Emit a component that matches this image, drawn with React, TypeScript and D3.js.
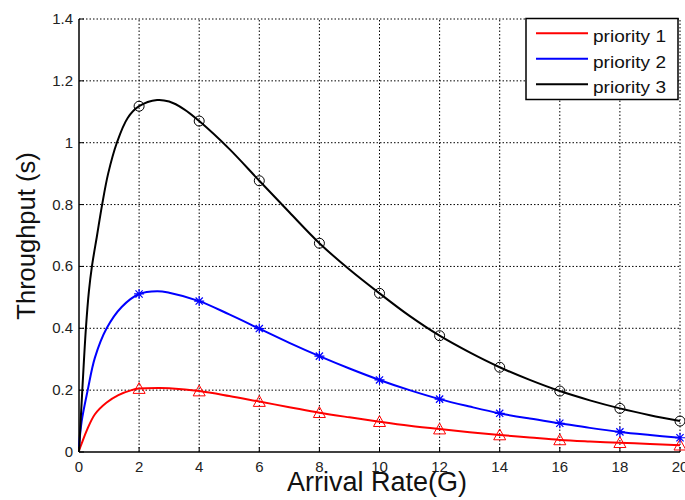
import React from 'react'
import * as d3 from 'd3'

// values
const xTicks = [0, 2, 4, 6, 8, 10, 12, 14, 16, 18, 20]
const yTicks = [0, 0.2, 0.4, 0.6, 0.8, 1, 1.2, 1.4]
const markerX = [2, 4, 6, 8, 10, 12, 14, 16, 18, 20]

const p1x = [0, 0.09, 0.26, 0.53, 0.92, 1.31, 1.75, 2, 2.7, 3, 4, 5, 6, 7, 8, 9, 10, 11, 12, 13, 14, 15, 16, 17, 18, 19, 20]
const p1y = [0.005, 0.028, 0.07, 0.122, 0.16, 0.184, 0.2, 0.205, 0.207, 0.206, 0.197, 0.181, 0.163, 0.145, 0.127, 0.112, 0.098, 0.085, 0.074, 0.064, 0.055, 0.047, 0.039, 0.034, 0.03, 0.026, 0.022]

const p2x = [0, 0.09, 0.29, 0.53, 0.92, 1.42, 2, 2.6, 3, 4, 5, 6, 7, 8, 9, 10, 11, 12, 13, 14, 15, 16, 17, 18, 19, 20]
const p2y = [0.017, 0.1, 0.2, 0.305, 0.4, 0.469, 0.511, 0.52, 0.515, 0.488, 0.445, 0.399, 0.353, 0.31, 0.27, 0.233, 0.2, 0.171, 0.147, 0.125, 0.108, 0.093, 0.078, 0.065, 0.055, 0.046]

const p3x = [0, 0.11, 0.23, 0.33, 0.43, 0.6, 0.77, 0.97, 1.26, 1.62, 2, 2.6, 3, 3.5, 4, 5, 6, 7, 8, 9, 10, 11, 12, 13, 14, 15, 16, 17, 18, 19, 20]
const p3y = [0, 0.2, 0.4, 0.52, 0.6, 0.7, 0.8, 0.9, 1.0, 1.08, 1.118, 1.138, 1.133, 1.108, 1.07, 0.98, 0.877, 0.775, 0.675, 0.59, 0.513, 0.44, 0.376, 0.322, 0.274, 0.233, 0.197, 0.167, 0.141, 0.119, 0.1]

const series = [
  { name: 'priority 1', color: '#ff0000', xs: p1x, ys: p1y, marker: 'triangle' },
  { name: 'priority 2', color: '#0000ff', xs: p2x, ys: p2y, marker: 'star' },
  { name: 'priority 3', color: '#000000', xs: p3x, ys: p3y, marker: 'circle' },
]

const W = 685
const H = 500
const margin = { left: 79, right: 5, top: 19, bottom: 48 }
const font = 'Liberation Sans, Arial, sans-serif'

function Marker({ type, x, y, color }: { type: string; x: number; y: number; color: string }) {
  if (type === 'circle') return <circle cx={x} cy={y} r={5} fill="none" stroke={color} strokeWidth={1} />
  if (type === 'triangle') {
    const s = 6
    return (
      <path d={`M${x},${y - s}L${x + s},${y + s * 0.8}L${x - s},${y + s * 0.8}Z`} fill="none" stroke={color} strokeWidth={1} />
    )
  }
  const s = 5
  const d = s * 0.72
  return (
    <path
      d={`M${x - s},${y}L${x + s},${y}M${x},${y - s}L${x},${y + s}M${x - d},${y - d}L${x + d},${y + d}M${x - d},${y + d}L${x + d},${y - d}`}
      stroke={color}
      strokeWidth={1.2}
    />
  )
}

export default function App() {
  const x = d3.scaleLinear().domain([0, 20]).range([margin.left, W - margin.right])
  const y = d3.scaleLinear().domain([0, 1.4]).range([H - margin.bottom, margin.top])
  const x0 = x(0), x1 = x(20), y0 = y(0), y1 = y(1.4)

  const line = d3
    .line<[number, number]>()
    .x((d) => x(d[0]))
    .y((d) => y(d[1]))
    .curve(d3.curveCatmullRom.alpha(0.5))

  return (
    <svg width={W} height={H} style={{ position: 'absolute', left: 0, top: 0, background: '#fff' }} fontFamily={font}>
      <rect x={0} y={0} width={W} height={H} fill="#fff" />
      {/* grid */}
      {xTicks.slice(1).map((t) => (
        <line key={'gx' + t} x1={x(t)} x2={x(t)} y1={y0} y2={y1} stroke="#000" strokeWidth={1} strokeDasharray="1.5,2" />
      ))}
      {yTicks.slice(1).map((t) => (
        <line key={'gy' + t} x1={x0} x2={x1} y1={y(t)} y2={y(t)} stroke="#000" strokeWidth={1} strokeDasharray="1.5,2" />
      ))}
      {/* axes */}
      <line x1={x0} x2={x0} y1={y0} y2={y1} stroke="#000" strokeWidth={1.5} />
      <line x1={x0} x2={x1} y1={y0} y2={y0} stroke="#000" strokeWidth={1.5} />
      {xTicks.map((t) => (
        <g key={'tx' + t}>
          <line x1={x(t)} x2={x(t)} y1={y0} y2={y0 - 5} stroke="#000" />
          <text x={x(t)} y={472} textAnchor="middle" fontSize={15} fill="#222">
            {t}
          </text>
        </g>
      ))}
      {yTicks.map((t) => (
        <g key={'ty' + t}>
          <line x1={x0} x2={x0 + 5} y1={y(t)} y2={y(t)} stroke="#000" />
          <text x={73} y={y(t) + 5} textAnchor="end" fontSize={15} fill="#222">
            {t}
          </text>
        </g>
      ))}
      {/* series */}
      {series.map((s) => {
        const pts = s.xs.map((v, i) => [v, s.ys[i]] as [number, number])
        return (
          <g key={s.name}>
            <path d={line(pts) || ''} fill="none" stroke={s.color} strokeWidth={2} />
            {markerX.map((mx) => {
              const i = s.xs.indexOf(mx)
              return <Marker key={mx} type={s.marker} x={x(mx)} y={y(s.ys[i])} color={s.color} />
            })}
          </g>
        )
      })}
      {/* axis labels */}
      <text x={377} y={491} textAnchor="middle" fontSize={27} fill="#111">
        Arrival Rate(G)
      </text>
      <text transform={`translate(35,236) rotate(-90)`} textAnchor="middle" fontSize={25.5} fill="#111">
        Throughput (s)
      </text>
      {/* legend */}
      <g>
        <rect x={526} y={18.5} width={152} height={81} fill="#fff" stroke="#000" strokeWidth={1.5} />
        {series.map((s, i) => (
          <g key={'lg' + s.name}>
            <line x1={536} x2={588} y1={33.3 + i * 25.5} y2={33.3 + i * 25.5} stroke={s.color} strokeWidth={2} />
            <text x={593} y={42 + i * 25.7} fontSize={16.5} textLength={73} lengthAdjust="spacingAndGlyphs" fill="#111">
              {s.name}
            </text>
          </g>
        ))}
      </g>
    </svg>
  )
}
